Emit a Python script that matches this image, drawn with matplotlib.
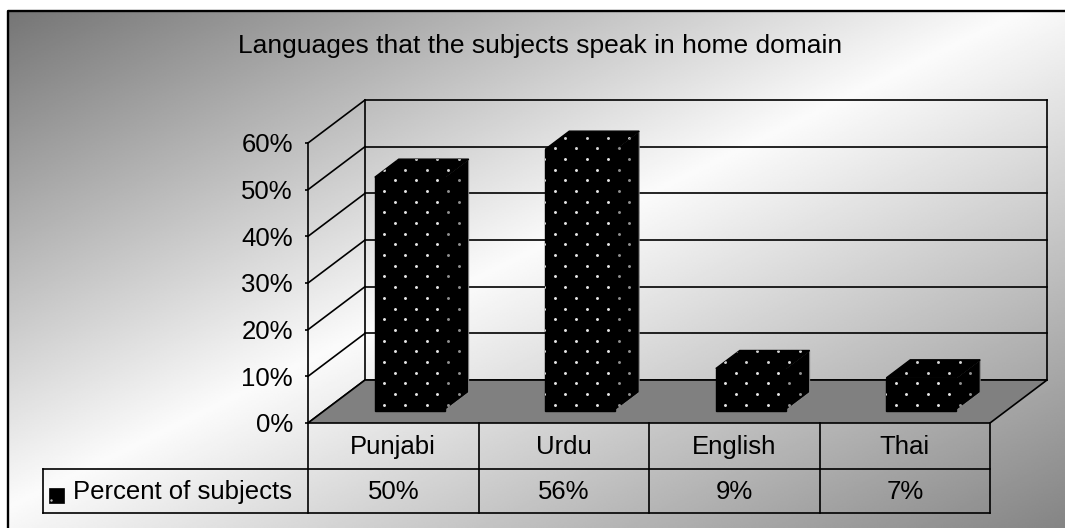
import numpy as np
import matplotlib
matplotlib.use("Agg")
import matplotlib.pyplot as plt
from matplotlib.patches import Polygon, Rectangle
from matplotlib.ticker import PercentFormatter

# ---- data -------------------------------------------------------------
categories = ["Punjabi", "Urdu", "English", "Thai"]
percent_of_subjects = [0.50, 0.56, 0.09, 0.07]
series_name = "Percent of subjects"
chart_title = "Languages that the subjects speak in home domain"
y_ticks = [0.0, 0.1, 0.2, 0.3, 0.4, 0.5, 0.6]

plt.rcParams['font.family'] = ['Liberation Sans', 'DejaVu Sans']
FS = 18.5

W, H = 1065, 528
fig = plt.figure(figsize=(W / 100, H / 100), dpi=100)

# ---- gradient background and outer frame ------------------------------
bg = fig.add_axes([0, 0, 1, 1])
bg.set_xlim(0, W)
bg.set_ylim(H, 0)
bg.axis('off')
fx, fy = 8, 11
gx, gy = np.meshgrid(np.linspace(0, 1, 600), np.linspace(0, 1, 300))
t = (gx + gy) / 2
shade = np.interp(t, [0.0, 0.48, 1.0], [0.46, 0.985, 0.52])
bg.imshow(shade, cmap='gray', vmin=0, vmax=1, extent=(fx, W, H, fy),
          interpolation='bilinear', aspect='auto', zorder=0)
bg.plot([fx, fx, W + 5], [H + 5, fy, fy], color='black', lw=1.7, zorder=1)

# ---- plot axes (front plane of the 3-D box) ----------------------------
n = len(categories)
ymax = y_ticks[-1]
L, R, Y0, YT = 308, 990, 423, 143
ax = fig.add_axes([L / W, (H - Y0) / H, (R - L) / W, (Y0 - YT) / H])
ax.set_xlim(0, n)
ax.set_ylim(0, ymax)
ax.patch.set_visible(False)
LW = 1.2
for s in ['top', 'right', 'bottom']:
    ax.spines[s].set_visible(False)
ax.spines['left'].set_linewidth(LW)
ax.spines['left'].set_zorder(6)
ax.set_xticks([])
ax.set_yticks(y_ticks)
ax.yaxis.set_major_formatter(PercentFormatter(1.0, decimals=0))
ax.tick_params(axis='y', length=2.4, width=LW, pad=8.5, labelsize=FS,
               direction='out')

# depth shift of the back plane, in data units
DX, DY = 0.3343, 0.0921
line_kw = dict(color='black', lw=LW, clip_on=False, zorder=2)

# side wall and back wall gridlines
for v in y_ticks:
    ax.plot([0, DX], [v, v + DY], **line_kw)
    ax.plot([DX, n + DX], [v + DY, v + DY], **line_kw)
ax.plot([DX, DX], [DY, ymax + DY], **line_kw)
ax.plot([n + DX, n + DX], [DY, ymax + DY], **line_kw)

# floor
ax.add_patch(Polygon([(0, 0), (n, 0), (n + DX, DY), (DX, DY)], closed=True,
                     fc='#808080', ec='black', lw=LW, clip_on=False, zorder=3))

# ---- 3-D columns with a dotted fill ------------------------------------
BW = 0.41            # column width (category units)
D0, D1 = 0.29, 0.71  # front / back depth of the columns
DOT_X, DOT_Y = 0.0626, 0.02286


def dot_lattice(x_lo, x_hi, y_lo, y_hi, x_anchor, y_anchor):
    i = np.arange(int(np.floor((x_lo - x_anchor) / DOT_X)) - 1,
                  int(np.ceil((x_hi - x_anchor) / DOT_X)) + 2)
    j = np.arange(int(np.floor((y_lo - y_anchor) / DOT_Y)) - 1,
                  int(np.ceil((y_hi - y_anchor) / DOT_Y)) + 2)
    ii, jj = np.meshgrid(i, j)
    keep = (ii + jj) % 2 == 0
    return x_anchor + ii[keep] * DOT_X, y_anchor + jj[keep] * DOT_Y


for k, v in enumerate(percent_of_subjects):
    xl = k + 0.5 - BW / 2
    xr = k + 0.5 + BW / 2
    fl, fr = xl + DX * D0, xr + DX * D0
    bl, br = xl + DX * D1, xr + DX * D1
    fb, bb = DY * D0, DY * D1
    front = Polygon([(fl, fb), (fr, fb), (fr, v + fb), (fl, v + fb)],
                    closed=True, fc='black', ec='black', lw=1.0,
                    clip_on=False, zorder=4)
    side = Polygon([(fr, fb), (br, bb), (br, v + bb), (fr, v + fb)],
                   closed=True, fc='black', ec='#8a8a8a', lw=0.7,
                   clip_on=False, zorder=4)
    top = Polygon([(fl, v + fb), (fr, v + fb), (br, v + bb), (bl, v + bb)],
                  closed=True, fc='black', ec='black', lw=1.0,
                  clip_on=False, zorder=4)
    for p in (side, top, front):
        ax.add_patch(p)
    px, py = dot_lattice(fl, br, fb, v + bb, fl + 0.0545, fb + 0.0129)
    for patch, col in ((front, '#e6e6e6'), (top, '#d4d4d4'), (side, '#909090')):
        sc = ax.scatter(px, py, s=4.5, c=col, linewidths=0, zorder=5)
        sc.set_clip_path(patch)

# ---- data table below the floor ----------------------------------------
ROW1, ROW2 = -0.0986, -0.1929
T_LEFT = -1.554
tab_kw = dict(color='black', lw=LW, clip_on=False, zorder=6)
ax.plot([0, 0], [0, ROW2], **tab_kw)
ax.plot([n, n], [0, ROW2], **tab_kw)
for k in range(1, n):
    ax.plot([k, k], [0, ROW2], **tab_kw)
ax.plot([T_LEFT, n], [ROW1, ROW1], **tab_kw)
ax.plot([T_LEFT, n], [ROW2, ROW2], **tab_kw)
ax.plot([T_LEFT, T_LEFT], [ROW1, ROW2], **tab_kw)

for k, (c, v) in enumerate(zip(categories, percent_of_subjects)):
    ax.text(k + 0.5, ROW1 / 2 - 0.003, c, ha='center', va='center',
            fontsize=FS, clip_on=False, zorder=7)
    ax.text(k + 0.5, (ROW1 + ROW2) / 2 - 0.002, f"{round(v * 100)}%",
            ha='center', va='center', fontsize=FS, clip_on=False, zorder=7)

# legend key inside the table
ax.add_patch(Rectangle((-1.519, -0.1712), 0.088, 0.0321, fc='black',
                       ec='black', lw=0.5, clip_on=False, zorder=7))
ax.scatter([-1.505], [-0.166], s=3, c='#bbbbbb', linewidths=0, zorder=8,
           clip_on=False)
ax.text(-1.378, (ROW1 + ROW2) / 2 - 0.002, series_name, ha='left',
        va='center', fontsize=FS, clip_on=False, zorder=7)

fig.text(540 / W, 1 - 53 / H, chart_title, ha='center', va='baseline',
         fontsize=FS + 0.5)

fig.savefig("out.png", dpi=100)
